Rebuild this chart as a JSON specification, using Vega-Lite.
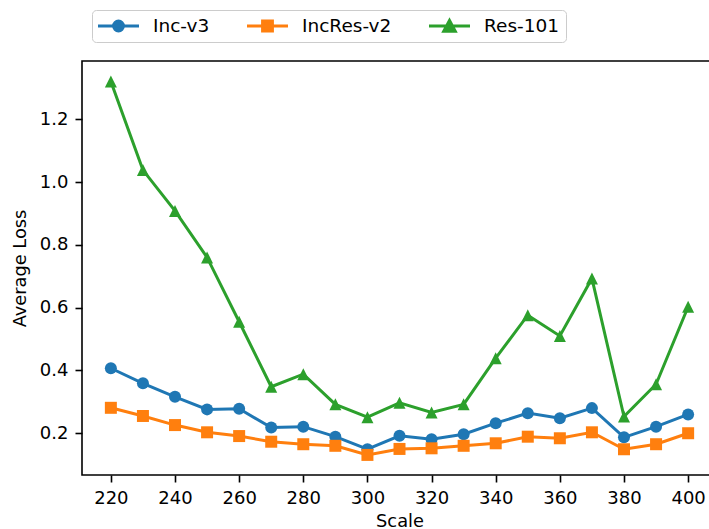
{
  "$schema": "https://vega.github.io/schema/vega-lite/v6.json",
  "autosize": "none",
  "padding": {"left": 82, "top": 61, "right": 0, "bottom": 54},
  "width": 635,
  "height": 414,
  "background": "white",
  "config": {
    "font": "DejaVu Sans",
    "view": {"stroke": "#000000", "strokeWidth": 1.6},
    "axis": {
      "domain": false,
      "grid": false,
      "tickColor": "#000000",
      "tickWidth": 1.6,
      "tickSize": 7,
      "labelPadding": 7,
      "labelFont": "DejaVu Sans",
      "titleFont": "DejaVu Sans",
      "labelFontSize": 18,
      "labelColor": "#000000",
      "titleFontSize": 17.8,
      "titleFontWeight": "normal",
      "titleColor": "#000000"
    },
    "legend": {"labelFont": "DejaVu Sans"}
  },
  "data": {
    "values": [
      {"scale": 220, "model": "Inc-v3", "loss": 0.407},
      {"scale": 230, "model": "Inc-v3", "loss": 0.359},
      {"scale": 240, "model": "Inc-v3", "loss": 0.316},
      {"scale": 250, "model": "Inc-v3", "loss": 0.276},
      {"scale": 260, "model": "Inc-v3", "loss": 0.278},
      {"scale": 270, "model": "Inc-v3", "loss": 0.218},
      {"scale": 280, "model": "Inc-v3", "loss": 0.221},
      {"scale": 290, "model": "Inc-v3", "loss": 0.189},
      {"scale": 300, "model": "Inc-v3", "loss": 0.149},
      {"scale": 310, "model": "Inc-v3", "loss": 0.192},
      {"scale": 320, "model": "Inc-v3", "loss": 0.181},
      {"scale": 330, "model": "Inc-v3", "loss": 0.197},
      {"scale": 340, "model": "Inc-v3", "loss": 0.232},
      {"scale": 350, "model": "Inc-v3", "loss": 0.264},
      {"scale": 360, "model": "Inc-v3", "loss": 0.248},
      {"scale": 370, "model": "Inc-v3", "loss": 0.280},
      {"scale": 380, "model": "Inc-v3", "loss": 0.187},
      {"scale": 390, "model": "Inc-v3", "loss": 0.221},
      {"scale": 400, "model": "Inc-v3", "loss": 0.260},
      {"scale": 220, "model": "IncRes-v2", "loss": 0.281},
      {"scale": 230, "model": "IncRes-v2", "loss": 0.255},
      {"scale": 240, "model": "IncRes-v2", "loss": 0.226},
      {"scale": 250, "model": "IncRes-v2", "loss": 0.203},
      {"scale": 260, "model": "IncRes-v2", "loss": 0.191},
      {"scale": 270, "model": "IncRes-v2", "loss": 0.173},
      {"scale": 280, "model": "IncRes-v2", "loss": 0.165},
      {"scale": 290, "model": "IncRes-v2", "loss": 0.160},
      {"scale": 300, "model": "IncRes-v2", "loss": 0.131},
      {"scale": 310, "model": "IncRes-v2", "loss": 0.150},
      {"scale": 320, "model": "IncRes-v2", "loss": 0.152},
      {"scale": 330, "model": "IncRes-v2", "loss": 0.160},
      {"scale": 340, "model": "IncRes-v2", "loss": 0.168},
      {"scale": 350, "model": "IncRes-v2", "loss": 0.189},
      {"scale": 360, "model": "IncRes-v2", "loss": 0.184},
      {"scale": 370, "model": "IncRes-v2", "loss": 0.203},
      {"scale": 380, "model": "IncRes-v2", "loss": 0.149},
      {"scale": 390, "model": "IncRes-v2", "loss": 0.165},
      {"scale": 400, "model": "IncRes-v2", "loss": 0.200},
      {"scale": 220, "model": "Res-101", "loss": 1.320},
      {"scale": 230, "model": "Res-101", "loss": 1.038},
      {"scale": 240, "model": "Res-101", "loss": 0.908},
      {"scale": 250, "model": "Res-101", "loss": 0.760},
      {"scale": 260, "model": "Res-101", "loss": 0.555},
      {"scale": 270, "model": "Res-101", "loss": 0.348},
      {"scale": 280, "model": "Res-101", "loss": 0.388},
      {"scale": 290, "model": "Res-101", "loss": 0.292},
      {"scale": 300, "model": "Res-101", "loss": 0.251},
      {"scale": 310, "model": "Res-101", "loss": 0.297},
      {"scale": 320, "model": "Res-101", "loss": 0.266},
      {"scale": 330, "model": "Res-101", "loss": 0.292},
      {"scale": 340, "model": "Res-101", "loss": 0.439},
      {"scale": 350, "model": "Res-101", "loss": 0.576},
      {"scale": 360, "model": "Res-101", "loss": 0.510},
      {"scale": 370, "model": "Res-101", "loss": 0.693},
      {"scale": 380, "model": "Res-101", "loss": 0.253},
      {"scale": 390, "model": "Res-101", "loss": 0.356},
      {"scale": 400, "model": "Res-101", "loss": 0.603}
    ]
  },
  "encoding": {
    "x": {
      "field": "scale",
      "type": "quantitative",
      "title": "Scale",
      "scale": {"domain": [211, 409], "nice": false, "zero": false},
      "axis": {"values": [220, 240, 260, 280, 300, 320, 340, 360, 380, 400], "format": "d", "titlePadding": 5}
    },
    "y": {
      "field": "loss",
      "type": "quantitative",
      "title": "Average Loss",
      "scale": {"domain": [0.067, 1.3855], "nice": false, "zero": false},
      "axis": {"values": [0.2, 0.4, 0.6, 0.8, 1.0, 1.2], "format": ".1f", "titlePadding": 10}
    },
    "color": {
      "field": "model",
      "type": "nominal",
      "scale": {"domain": ["Inc-v3", "IncRes-v2", "Res-101"], "range": ["#1f77b4", "#ff7f0e", "#2ca02c"]},
      "legend": {
        "orient": "none",
        "legendX": 10,
        "legendY": -51,
        "direction": "horizontal",
        "title": null,
        "fillColor": "white",
        "strokeColor": "#cccccc",
        "cornerRadius": 4,
        "padding": 6,
        "clipHeight": 20,
        "symbolSize": 144,
        "symbolStrokeWidth": 3,
        "labelFontSize": 18.5,
        "labelColor": "#000000",
        "labelOffset": 11,
        "columnPadding": 37,
        "encode": {
          "symbols": {
            "update": {
              "shape": {"signal": "datum.value == 'Inc-v3' ? 'M-1,0H1M0.24,0A0.24,0.24,0,1,1,-0.24,0A0.24,0.24,0,1,1,0.24,0Z' : datum.value == 'IncRes-v2' ? 'M-1,0H1M-0.24,-0.24H0.24V0.24H-0.24Z' : 'M-1,0H1M0,-0.27L0.28,0.25L-0.28,0.25Z'"},
              "size": {"value": 1681},
              "x": {"value": 20.5},
              "fill": {"scale": "color", "field": "value"},
              "stroke": {"scale": "color", "field": "value"},
              "strokeWidth": {"value": 3}
            }
          }
        }
      }
    }
  },
  "layer": [
    {
      "mark": {"type": "line", "strokeWidth": 3}
    },
    {
      "transform": [{"filter": "datum.model == 'Inc-v3'"}],
      "mark": {"type": "point", "shape": "circle", "filled": true, "opacity": 1, "size": 144, "strokeWidth": 1.5}
    },
    {
      "transform": [{"filter": "datum.model == 'IncRes-v2'"}],
      "mark": {"type": "point", "shape": "square", "filled": true, "opacity": 1, "size": 144, "strokeWidth": 1.5}
    },
    {
      "transform": [{"filter": "datum.model == 'Res-101'"}],
      "mark": {"type": "point", "shape": "M0,-1L1,1L-1,1Z", "filled": true, "opacity": 1, "size": 144, "strokeWidth": 1.5}
    }
  ]
}
